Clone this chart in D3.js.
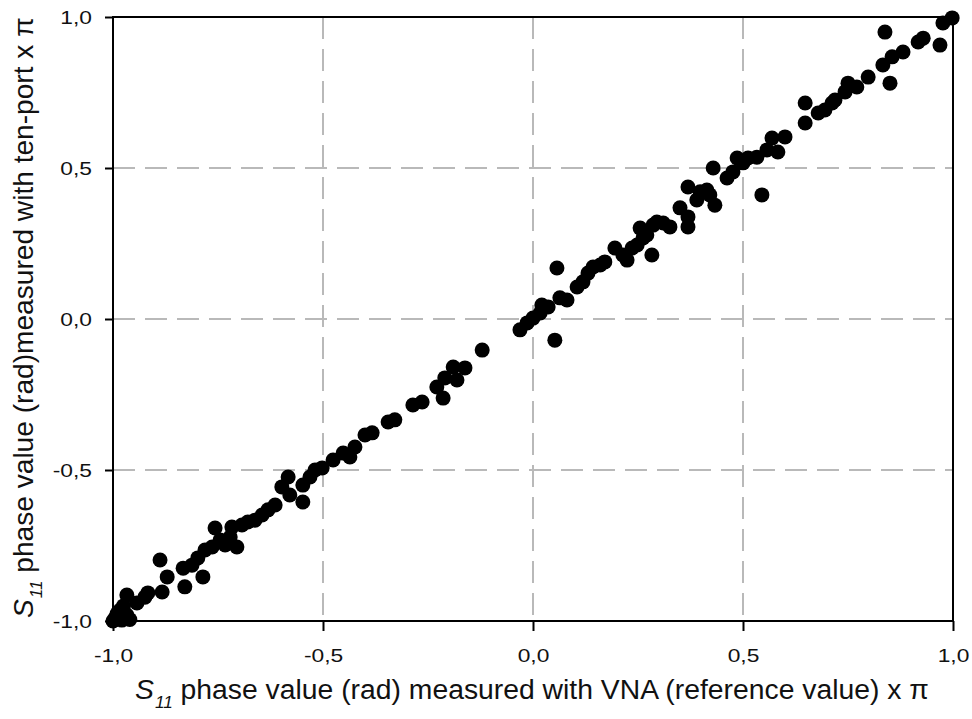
<!DOCTYPE html>
<html>
<head>
<meta charset="utf-8">
<script src="https://cdn.jsdelivr.net/npm/d3@7"></script>
<style>
  html, body { margin: 0; padding: 0; background: #fff; }
  svg { display: block; font-family: "Liberation Sans", Arial, sans-serif; }
</style>
</head>
<body>
<svg id="chart" width="972" height="719"></svg>
<script>
// ---- data (phase values, in units of π) ----
const vnaPhase = [
  -0.995, -0.979, -0.967, -0.983, -0.967, -0.943, -0.924, -0.917, -0.883, -0.888,
  -0.871, -0.833, -0.829, -0.812, -0.798, -0.786, -0.781, -0.764, -0.757, -0.745,
  -0.733, -0.721, -0.717, -0.705, -0.693, -0.679, -0.662, -0.645, -0.631, -0.614,
  -0.598, -0.583, -0.579, -0.548, -0.548, -0.531, -0.519, -0.502, -0.476, -0.452,
  -0.436, -0.424, -0.400, -0.383, -0.345, -0.329, -0.286, -0.264, -0.229, -0.214,
  -0.210, -0.190, -0.181, -0.162, -0.121, -0.031, -0.014, 0.000, 0.017, 0.021,
  0.036, 0.052, 0.057, 0.064, 0.081, 0.105, 0.119, 0.131, 0.143, 0.160,
  0.171, 0.195, 0.214, 0.224, 0.236, 0.248, 0.255, 0.262, 0.271, 0.283,
  0.286, 0.295, 0.310, 0.326, 0.350, 0.369, 0.369, 0.369, 0.390, 0.398,
  0.414, 0.421, 0.433, 0.429, 0.462, 0.476, 0.486, 0.500, 0.512, 0.533,
  0.545, 0.557, 0.569, 0.583, 0.600, 0.648, 0.648, 0.679, 0.695, 0.712,
  0.719, 0.743, 0.750, 0.771, 0.798, 0.833, 0.850, 0.855, 0.881, 0.838,
  0.917, 0.929, 0.969, 0.976, 0.998, -1.000, -0.990, -0.960, -0.975
];
const tenPortPhase = [
  -0.990, -0.997, -0.980, -0.964, -0.914, -0.940, -0.921, -0.907, -0.904, -0.798,
  -0.854, -0.825, -0.887, -0.815, -0.791, -0.854, -0.765, -0.755, -0.692, -0.732,
  -0.748, -0.722, -0.689, -0.755, -0.682, -0.672, -0.666, -0.649, -0.632, -0.616,
  -0.556, -0.523, -0.583, -0.550, -0.606, -0.523, -0.500, -0.493, -0.467, -0.444,
  -0.457, -0.424, -0.384, -0.377, -0.341, -0.334, -0.285, -0.275, -0.225, -0.262,
  -0.195, -0.159, -0.202, -0.162, -0.103, -0.036, -0.013, 0.003, 0.020, 0.046,
  0.040, -0.070, 0.169, 0.070, 0.063, 0.106, 0.123, 0.152, 0.172, 0.179,
  0.189, 0.235, 0.212, 0.195, 0.235, 0.245, 0.301, 0.268, 0.278, 0.212,
  0.311, 0.321, 0.318, 0.305, 0.368, 0.338, 0.305, 0.437, 0.394, 0.421,
  0.427, 0.411, 0.377, 0.500, 0.467, 0.487, 0.533, 0.517, 0.533, 0.536,
  0.411, 0.560, 0.599, 0.553, 0.603, 0.649, 0.715, 0.682, 0.692, 0.715,
  0.725, 0.752, 0.781, 0.768, 0.801, 0.841, 0.781, 0.868, 0.884, 0.950,
  0.917, 0.930, 0.907, 0.980, 0.997, -1.000, -0.975, -0.995, -0.950
];
const tickValues = [-1, -0.5, 0, 0.5, 1];
const tickLabels = ["-1,0", "-0,5", "0,0", "0,5", "1,0"];
const gridValues = [-0.5, 0, 0.5];
const xTitleParts = ["S", "11", " phase value (rad) measured with VNA (reference value) x \u03C0"];
const yTitleParts = ["S", "11", " phase value (rad)measured with ten-port x \u03C0"];

// ---- layout ----
const svg = d3.select("#chart");
const x = d3.scaleLinear().domain([-1, 1]).range([113, 953]);
const y = d3.scaleLinear().domain([-1, 1]).range([621, 17]);

// gridlines
const grid = svg.append("g").attr("stroke", "#b9b9b9").attr("stroke-width", 2)
  .attr("stroke-dasharray", "22,10").attr("fill", "none");
grid.selectAll("line.v").data(gridValues).join("line").attr("class", "v")
  .attr("x1", d => x(d)).attr("x2", d => x(d))
  .attr("y1", y(1)).attr("y2", y(-1));
grid.selectAll("line.h").data(gridValues).join("line").attr("class", "h")
  .attr("y1", d => y(d)).attr("y2", d => y(d))
  .attr("x1", x(-1)).attr("x2", x(1));

// axes
const fmt = d => tickLabels[tickValues.indexOf(d)];
const xAxis = svg.append("g").attr("transform", `translate(0,${y(-1)})`)
  .call(d3.axisBottom(x).tickValues(tickValues).tickFormat(fmt).tickSize(10).tickPadding(18));
const yAxis = svg.append("g").attr("transform", `translate(${x(-1)},0)`)
  .call(d3.axisLeft(y).tickValues(tickValues).tickFormat(fmt).tickSize(8).tickPadding(13));
[xAxis, yAxis].forEach(a => {
  a.select(".domain").remove();
  a.selectAll(".tick line").attr("stroke", "#000").attr("stroke-width", 2);
  a.selectAll(".tick text").attr("fill", "#111")
    .style("font-family", '"Liberation Sans", Arial, sans-serif').style("font-size", "19px");
});
// slightly wider glyphs, as in the reference
xAxis.selectAll(".tick text").attr("transform", "scale(1.2,1)");
yAxis.selectAll(".tick text").each(function () {
  const t = d3.select(this);
  const xx = +t.attr("x");
  t.attr("x", 0).attr("transform", `translate(${xx},0) scale(1.2,1)`);
});

// frame
svg.append("rect")
  .attr("x", x(-1)).attr("y", y(1))
  .attr("width", x(1) - x(-1)).attr("height", y(-1) - y(1))
  .attr("fill", "none").attr("stroke", "#000").attr("stroke-width", 2);

// dots
svg.append("g").selectAll("circle")
  .data(vnaPhase.map((v, i) => [v, tenPortPhase[i]]))
  .join("circle")
  .attr("cx", d => x(d[0])).attr("cy", d => y(d[1]))
  .attr("r", 7.5).attr("fill", "#000");

// titles
function addTitle(parts, targetLen, transformFn) {
  const t = svg.append("text").attr("fill", "#111")
    .style("font-size", "28px");
  t.append("tspan").style("font-style", "italic").text(parts[0]);
  t.append("tspan").style("font-style", "italic").style("font-size", "17px")
    .attr("dy", 9).attr("dx", 1).text(parts[1]);
  t.append("tspan").attr("dy", -9).text(parts[2]);
  const w = t.node().getComputedTextLength();
  t.attr("transform", transformFn(targetLen / w));
}
addTitle(xTitleParts, 793, s => `translate(135,699) scale(${s},1)`);
addTitle(yTitleParts, 600, s => `translate(33,618) rotate(-90) scale(${s},1)`);
</script>
</body>
</html>
